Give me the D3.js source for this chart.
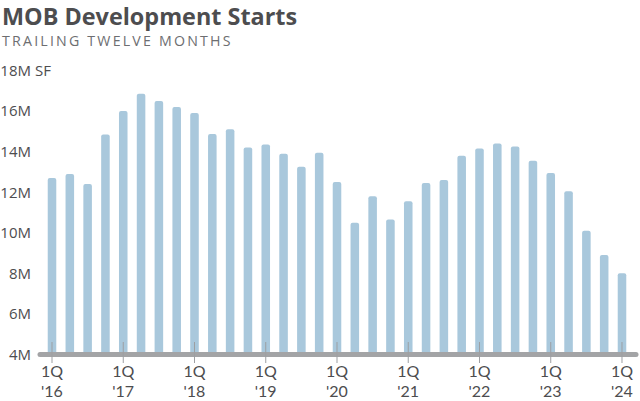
<!DOCTYPE html>
<html><head><meta charset="utf-8">
<script src="https://cdn.jsdelivr.net/npm/d3@7"></script>
<style>
html,body{margin:0;padding:0;background:#fff;}
svg{display:block;font-family:"Open Sans",sans-serif;}
</style></head>
<body><svg id="c" width="640" height="401"></svg>
<script>
const quarters = [];
const years = ["16","17","18","19","20","21","22","23","24"];
years.forEach(y => { for (let q = 1; q <= 4; q++) { if (y === "24" && q > 1) break; quarters.push(q + "Q" + y); } });
const values = [12.7, 12.9, 12.4, 14.85, 16.0, 16.85, 16.5, 16.2, 15.9, 14.87, 15.1, 14.2, 14.35, 13.9, 13.25, 13.95, 12.5, 10.5, 11.8, 10.65, 11.55, 12.45, 12.6, 13.8, 14.15, 14.4, 14.25, 13.55, 12.95, 12.05, 10.1, 8.9, 8.0];
const yTicks = [4, 6, 8, 10, 12, 14, 16, 18];
const title = "MOB Development Starts";
const subtitle = "TRAILING TWELVE MONTHS";

const svg = d3.select("#c");
const x = d3.scaleBand().domain(quarters).range([43.1, 630.9]).paddingInner(0.52).paddingOuter(0.26);
const y = d3.scaleLinear().domain([4, 18]).range([354.5, 70.5]);

svg.append("text").attr("x", 2).attr("y", 24.5).attr("font-size", 23.4).attr("font-weight", 700)
  .attr("fill", "#4d4d4f").text(title);
svg.append("text").attr("x", 2).attr("y", 46).attr("font-size", 14.2).attr("letter-spacing", 2.2)
  .attr("fill", "#6d6e71").text(subtitle);

svg.append("g").selectAll("rect").data(values).join("rect")
  .attr("x", (d, i) => x(quarters[i]))
  .attr("width", x.bandwidth())
  .attr("y", d => y(d))
  .attr("height", d => y(4) - y(d))
  .attr("rx", 2)
  .attr("fill", "#a9c8dc");

// y labels
const yl = svg.append("g");
yl.selectAll("text").data(yTicks).join("text")
  .attr("x", 31).attr("y", d => y(d)).attr("dy", "0.36em")
  .attr("text-anchor", "end").attr("font-size", 15).attr("fill", "#4d4d4f")
  .text(d => d + "M");
yl.append("text").attr("x", 35).attr("y", y(18)).attr("dy", "0.36em")
  .attr("font-size", 15).attr("fill", "#4d4d4f").text("SF");

// baseline
svg.append("line").attr("x1", 40).attr("x2", 636).attr("y1", y(4)).attr("y2", y(4))
  .attr("stroke", "#a3a4a6").attr("stroke-width", 5).attr("stroke-linecap", "round");

// x ticks & labels
const tickQ = quarters.filter(q => q.startsWith("1Q"));
const xg = svg.append("g");
tickQ.forEach(q => {
  const cx = x(q) + x.bandwidth() / 2;
  xg.append("line").attr("x1", cx).attr("x2", cx).attr("y1", 342).attr("y2", 363)
    .attr("stroke", "#9d9fa2").attr("stroke-width", 1);
  xg.append("text").attr("x", cx).attr("y", 377).attr("text-anchor", "middle")
    .attr("font-family", "Lato").attr("font-size", 16).attr("fill", "#4d4d4f").text("1Q");
  xg.append("text").attr("x", cx).attr("y", 396.6).attr("text-anchor", "middle")
    .attr("font-family", "Lato").attr("font-size", 16).attr("fill", "#4d4d4f").text("'" + q.slice(2));
});
</script></body></html>
